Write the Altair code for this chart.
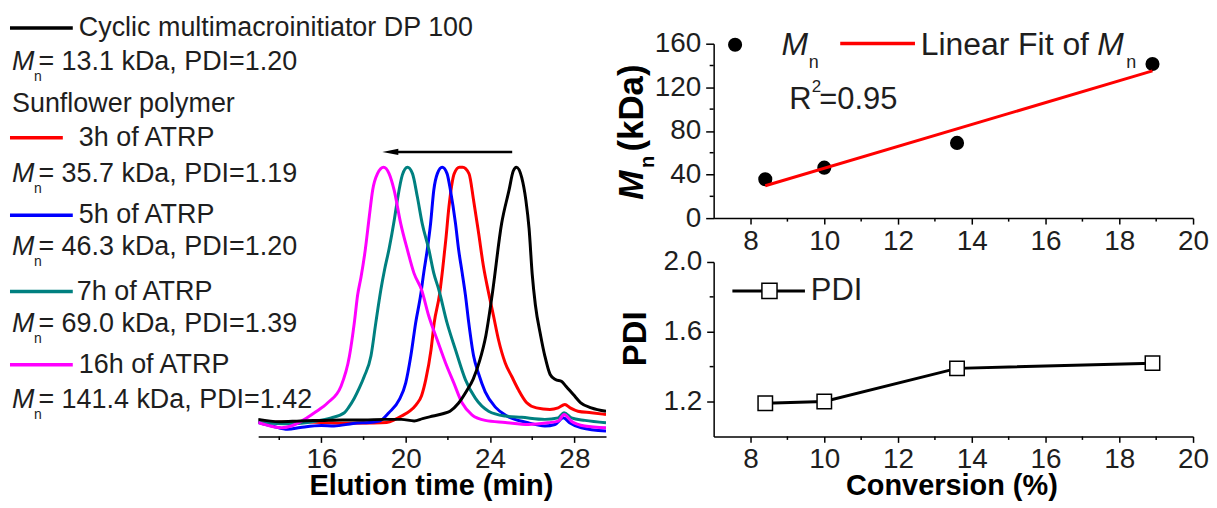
import altair as alt
import pandas as pd

FONT = "Liberation Sans"
TXT = "#1e1e1e"

# ---------------- Left panel: SEC traces (elution time, normalized intensity) ----------------
black_t = [13.0, 14.0, 15.0, 16.0, 17.0, 18.0, 19.0, 19.8, 20.4, 20.8, 21.3, 21.8, 22.1, 22.5, 22.9,
           23.2, 23.5, 23.8, 24.1, 24.55, 24.9, 25.1, 25.25, 25.5, 25.7, 25.85, 26.0, 26.15, 26.4,
           26.6, 26.85, 27.1, 27.4, 27.6, 27.95, 28.3, 28.8, 29.5]
black_i = [1.2, 0.3, 0.6, 0.8, 1.0, 1.0, 1.2, 1.2, 0.6, 1.5, 2.5, 3.5, 4.4, 7.5, 12.5,
           17.0, 24.0, 34.0, 50.0, 78.0, 91.0, 98.5, 100.0, 96.0, 87.0, 76.0, 58.0, 46.0, 34.0,
           26.0, 18.8, 16.8, 16.0, 14.2, 10.9, 7.7, 5.7, 4.4]

red_t = [13.0, 15.0, 17.0, 18.5, 19.1, 19.5, 19.8, 20.2, 20.5, 20.75, 20.95, 21.2, 21.35, 21.6, 21.75,
         21.9, 22.05, 22.3, 22.55, 22.7, 23.0, 23.22, 23.46, 23.69, 23.9, 24.17, 24.4, 24.72, 25.03,
         25.34, 25.74, 26.2, 26.84, 27.23, 27.55, 27.8, 28.17, 28.8, 29.5]
red_i = [0.0, 0.3, -0.3, -0.2, 0.0, 1.2, 2.5, 4.5, 7.0, 10.5, 16.8, 28.5, 39.0, 50.0, 60.0,
         71.5, 84.5, 97.5, 100.0, 100.0, 97.5, 87.0, 74.0, 61.0, 52.0, 41.5, 32.4, 23.3, 18.0,
         12.9, 7.7, 5.7, 5.1, 5.7, 7.0, 5.7, 4.4, 3.8, 3.1]

blue_t = [13.0, 13.7, 14.4, 15.0, 16.0, 16.6, 17.5, 18.5, 18.75, 19.2, 19.7, 20.0, 20.24, 20.47,
          20.71, 20.86, 21.02, 21.18, 21.33, 21.5, 21.73, 21.96, 22.12, 22.36, 22.51, 22.67, 22.83,
          22.99, 23.22, 23.46, 23.77, 24.25, 24.8, 25.8, 26.6, 27.08, 27.47, 27.77, 28.33, 29.5]
blue_i = [0.0, -1.5, -2.7, -2.0, -1.2, -1.4, -0.4, 0.2, 0.5, 3.8, 9.0, 15.5, 26.0, 39.0,
          50.0, 59.0, 67.6, 78.0, 91.0, 97.5, 100.0, 97.5, 91.0, 78.0, 67.6, 59.0, 50.0,
          39.0, 26.0, 19.0, 12.0, 6.0, 2.5, -0.1, -1.4, -0.8, 1.8, -0.1, -2.1, -3.4]

teal_t = [13.0, 14.5, 15.7, 16.46, 17.09, 17.3, 17.56, 17.8, 18.03, 18.35, 18.58, 18.82, 19.0, 19.21,
          19.45, 19.6, 19.84, 20.08, 20.32, 20.55, 20.78, 21.1, 21.33, 21.57, 21.96, 22.36, 22.83,
          23.3, 23.93, 24.72, 25.5, 26.6, 27.23, 27.51, 27.86, 28.5, 29.5]
teal_i = [0.0, -0.5, 0.5, 1.8, 3.8, 6.0, 9.5, 13.5, 18.0, 26.0, 39.0, 52.0, 60.0, 68.0,
          79.0, 87.0, 97.0, 100.0, 97.5, 88.4, 78.0, 67.6, 58.5, 52.0, 39.0, 28.5, 16.8,
          9.5, 4.4, 2.5, 2.0, 1.2, 1.8, 3.8, 1.8, 0.8, -0.1]

magenta_t = [13.0, 13.3, 14.1, 14.57, 15.2, 15.67, 16.3, 16.93, 17.33, 17.56, 17.72, 17.88, 18.08,
             18.27, 18.43, 18.66, 18.95, 19.21, 19.45, 19.76, 20.08, 20.39, 20.75, 21.1, 21.49,
             21.89, 22.28, 22.67, 23.14, 23.77, 24.72, 25.82, 26.76, 27.23, 27.51, 27.86, 28.49, 29.5]
magenta_i = [0.0, -0.8, -2.1, -1.4, 1.2, 3.8, 7.7, 14.2, 26.0, 39.0, 50.0, 57.0, 67.6,
             80.6, 91.0, 97.5, 100.0, 97.5, 91.0, 78.0, 67.6, 58.5, 52.0, 41.5, 32.4,
             23.3, 15.5, 7.7, 3.0, 0.8, 0.0, -0.8, -0.1, 0.5, 3.1, 0.5, -1.4, -2.1]

series_names = ["Cyclic multimacroinitiator DP 100", "3h of ATRP", "5h of ATRP", "7h of ATRP", "16h of ATRP"]
series_colors = ["#000000", "#ff0000", "#0000ff", "#008080", "#ff00ff"]
mn_labels = ["= 13.1 kDa, PDI=1.20", "= 35.7 kDa, PDI=1.19", "= 46.3 kDa, PDI=1.20",
             "= 69.0 kDa, PDI=1.39", "= 141.4 kDa, PDI=1.42"]
group_label = "Sunflower polymer"

arrow_t = [25.05, 19.4]
arrow_head_t = [19.27]
arrow_level = 106

left_ticks = [16, 20, 24, 28]
left_minor = [14, 18, 22, 26]

# ---------------- Right panels ----------------
conversion = [8.4, 10.0, 13.6, 18.9]
mn_kda = [35.7, 46.3, 69.0, 141.4]
pdi_vals = [1.19, 1.20, 1.39, 1.42]
fit_conv = [8.4, 18.9]
fit_mn = [29.7, 135.1]

conv_ticks = [8, 10, 12, 14, 16, 18, 20]
conv_minor = [9, 11, 13, 15, 17, 19]
mn_ticks = [0, 40, 80, 120, 160]
mn_minor = [20, 60, 100, 140]
pdi_ticks = [1.2, 1.6, 2.0]
pdi_minor = [1.4, 1.8]

ONE = pd.DataFrame({"k": [0]})

# layout (page pixel positions of the plot areas)
L_X0, L_Y0, LW, LH = 259, 43, 349, 394
R_X0, RT_Y0, RW, RH = 717, 43, 481, 175
RB_Y0 = 262


def txt(s, x, y, ox, oy, size, weight="normal", style="normal", align="left", angle=None, color=TXT):
    kw = dict(text=s, font=FONT, fontSize=size, fontWeight=weight, fontStyle=style,
              align=align, baseline="middle", color=color)
    if angle is not None:
        kw["angle"] = angle
    return alt.Chart(ONE).mark_text(**kw).encode(x=alt.value(x - ox), y=alt.value(y - oy))


def seg(x1, x2, y, ox, oy, color, width=3.5):
    return alt.Chart(ONE).mark_rule(color=color, strokeWidth=width).encode(
        x=alt.value(x1 - ox), x2=alt.value(x2 - ox), y=alt.value(y - oy))


def spacer():
    return alt.Chart(ONE).mark_rule(opacity=0, strokeOpacity=0).encode(
        x=alt.value(0), y=alt.value(-32), y2=alt.value(0))


# ---------------- Left chart ----------------
xs_left = alt.Scale(domain=[13, 29.5], nice=False, zero=False)
ys_left = alt.Scale(domain=[-5.47, 148.4], nice=False, zero=False)
ax_left = alt.Axis(values=left_ticks, format="d", title=None, tickSize=6, labelPadding=3)
X_L = alt.X("t:Q", scale=xs_left, axis=ax_left)
Y_L = alt.Y("i:Q", scale=ys_left, axis=None)


def curve(ts, vals, color):
    df = pd.DataFrame({"t": ts, "i": vals})
    return alt.Chart(df).mark_line(color=color, strokeWidth=3, clip=True,
                                   interpolate="monotone").encode(x=X_L, y=Y_L)


curves = [curve(red_t, red_i, series_colors[1]),
          curve(blue_t, blue_i, series_colors[2]),
          curve(teal_t, teal_i, series_colors[3]),
          curve(magenta_t, magenta_i, series_colors[4]),
          curve(black_t, black_i, series_colors[0])]

arrow = alt.Chart(pd.DataFrame({"t": arrow_t, "i": [arrow_level] * 2})).mark_line(
    color="black", strokeWidth=2.5).encode(x=X_L, y=Y_L)
head = alt.Chart(pd.DataFrame({"t": arrow_head_t, "i": [arrow_level]})).mark_point(
    shape="M -1 0 L 1 -0.4 L 1 0.4 Z", filled=True, color="black", size=256, opacity=1
).encode(x=X_L, y=Y_L)
minor_l = alt.Chart(pd.DataFrame({"t": left_minor})).mark_rule(color="black", strokeWidth=1.5).encode(
    x=X_L, y=alt.value(LH), y2=alt.value(LH + 3.5))

LS = 27
leg_rows_line = [27.3, 137.3, 215, 291.7, 365]
leg_rows_mn = [61.5, 173.5, 247, 324, 401]
leg_line_end = [73, 63, 73, 73, 73]
leg_text_x = [79, 79, 79, 77, 79]

left_layers = [spacer()] + curves + [arrow, head, minor_l]
for k in range(5):
    left_layers.append(seg(10, leg_line_end[k], leg_rows_line[k], L_X0, L_Y0, series_colors[k]))
    left_layers.append(txt(series_names[k], leg_text_x[k], leg_rows_line[k], L_X0, L_Y0, LS))
    ym = leg_rows_mn[k]
    left_layers.append(txt("M", 12, ym, L_X0, L_Y0, LS, style="italic"))
    left_layers.append(txt("n", 34, ym + 15, L_X0, L_Y0, 14))
    left_layers.append(txt(mn_labels[k], 38.5, ym, L_X0, L_Y0, LS))
left_layers.append(txt(group_label, 12, 104, L_X0, L_Y0, LS))
left_layers.append(txt("Elution time (min)", 432.8, 487, L_X0, L_Y0, 29, weight="bold",
                       align="center", color="#000000"))

left = alt.layer(*left_layers).properties(width=LW, height=LH)

# ---------------- Right top: Mn vs conversion ----------------
xs_r = alt.Scale(domain=[7, 20], nice=False, zero=False)
ax_conv = alt.Axis(values=conv_ticks, format="d", title=None, tickSize=6, labelPadding=3)
X_R = alt.X("c:Q", scale=xs_r, axis=ax_conv)
Y_MN = alt.Y("m:Q", scale=alt.Scale(domain=[0, 160], nice=False, zero=False),
             axis=alt.Axis(values=mn_ticks, format="d", title=None, tickSize=8, labelPadding=5))

mn_pts = alt.Chart(pd.DataFrame({"c": conversion, "m": mn_kda})).mark_circle(
    size=200, color="black", opacity=1).encode(x=X_R, y=Y_MN)
mn_fit = alt.Chart(pd.DataFrame({"c": fit_conv, "m": fit_mn})).mark_line(
    color="#ff0000", strokeWidth=3).encode(x=X_R, y=Y_MN)
top_minor_x = alt.Chart(pd.DataFrame({"c": conv_minor})).mark_rule(color="black", strokeWidth=1.5).encode(
    x=X_R, y=alt.value(RH), y2=alt.value(RH + 3.5))
top_minor_y = alt.Chart(pd.DataFrame({"m": mn_minor})).mark_rule(color="black", strokeWidth=1.5).encode(
    y=Y_MN, x=alt.value(-4), x2=alt.value(0))

top_layers = [spacer(), mn_pts, mn_fit, top_minor_x, top_minor_y,
              alt.Chart(ONE).mark_circle(size=200, color="black", opacity=1).encode(
                  x=alt.value(738.5 - R_X0), y=alt.value(44 - RT_Y0)),
              txt("M", 785, 44, R_X0, RT_Y0, 32, style="italic"),
              txt("n", 812.5, 62.5, R_X0, RT_Y0, 18),
              seg(844, 919, 42.7, R_X0, RT_Y0, "#ff0000"),
              txt("Linear Fit of", 924.7, 44, R_X0, RT_Y0, 32),
              txt("M", 1101.8, 44, R_X0, RT_Y0, 32, style="italic"),
              txt("n", 1131, 62.5, R_X0, RT_Y0, 18),
              txt("R", 792.8, 100, R_X0, RT_Y0, 31),
              txt("2", 815.5, 86, R_X0, RT_Y0, 17),
              txt("=0.95", 823, 100, R_X0, RT_Y0, 31),
              txt("M", 635.4, 185, R_X0, RT_Y0, 35, weight="bold", style="italic", align="center",
                  angle=270, color="#000000"),
              txt("n", 651, 161.7, R_X0, RT_Y0, 20, weight="bold", align="center", angle=270,
                  color="#000000"),
              txt("(kDa)", 635.4, 107.5, R_X0, RT_Y0, 35, weight="bold", align="center", angle=270,
                  color="#000000")]
top = alt.layer(*top_layers).properties(width=RW, height=RH)

# ---------------- Right bottom: PDI vs conversion ----------------
Y_PDI = alt.Y("p:Q", scale=alt.Scale(domain=[1.0, 2.0], nice=False, zero=False),
              axis=alt.Axis(values=pdi_ticks, format=".1f", title=None, tickSize=7, labelPadding=5))
pdi_df = pd.DataFrame({"c": conversion, "p": pdi_vals})
pdi_line = alt.Chart(pdi_df).mark_line(color="black", strokeWidth=3).encode(x=X_R, y=Y_PDI)
pdi_pts = alt.Chart(pdi_df).mark_point(shape="square", filled=True, fill="white", stroke="black",
                                       strokeWidth=1.5, size=210, opacity=1).encode(x=X_R, y=Y_PDI)
bot_minor_x = alt.Chart(pd.DataFrame({"c": conv_minor})).mark_rule(color="black", strokeWidth=1.5).encode(
    x=X_R, y=alt.value(RH), y2=alt.value(RH + 3.5))
bot_minor_y = alt.Chart(pd.DataFrame({"p": pdi_minor})).mark_rule(color="black", strokeWidth=1.5).encode(
    y=Y_PDI, x=alt.value(-4), x2=alt.value(0))

bot_layers = [pdi_line, pdi_pts, bot_minor_x, bot_minor_y,
              seg(735.8, 808.6, 291, R_X0, RB_Y0, "black", 3),
              alt.Chart(ONE).mark_point(shape="square", filled=True, fill="white", stroke="black",
                                        strokeWidth=1.5, size=230, opacity=1).encode(
                  x=alt.value(773 - R_X0), y=alt.value(291 - RB_Y0)),
              txt("PDI", 814.5, 291, R_X0, RB_Y0, 31),
              txt("PDI", 639.4, 339, R_X0, RB_Y0, 33, weight="bold", align="center", angle=270,
                  color="#000000"),
              txt("Conversion (%)", 956, 487, R_X0, RB_Y0, 29, weight="bold", align="center",
                  color="#000000")]
bottom = alt.layer(*bot_layers).properties(width=RW, height=RH)

right = alt.vconcat(top, bottom, spacing=RB_Y0 - RT_Y0 - RH, bounds="flush")

chart = alt.hconcat(left, right, spacing=9).properties(
    padding={"left": 0, "top": 3, "right": 0, "bottom": 0}
).configure_view(stroke=None).configure_axis(
    domainColor="black", domainWidth=1.5, tickColor="black", tickWidth=1.5,
    labelColor=TXT, labelFont=FONT, labelFontSize=28, labelFlush=False,
    labelOverlap=False, grid=False
)

chart.save("out.html", embed_options={"renderer": "svg", "actions": False})
